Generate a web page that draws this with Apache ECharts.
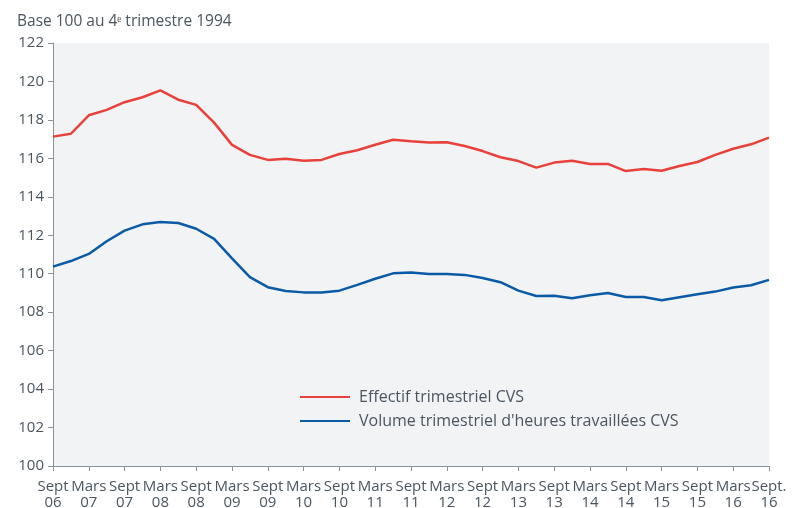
<!DOCTYPE html>
<html><head><meta charset="utf-8">
<script src="https://cdn.jsdelivr.net/npm/echarts@6/dist/echarts.min.js"></script>
<style>html,body{margin:0;padding:0;background:#fff}#c{width:795px;height:508px}</style>
</head><body><div id="c"></div>
<script>
const categories = [
"Sept\n06","Déc\n06","Mars\n07","Juin\n07","Sept\n07","Déc\n07","Mars\n08","Juin\n08","Sept\n08","Déc\n08",
"Mars\n09","Juin\n09","Sept\n09","Déc\n09","Mars\n10","Juin\n10","Sept\n10","Déc\n10","Mars\n11","Juin\n11",
"Sept\n11","Déc\n11","Mars\n12","Juin\n12","Sept\n12","Déc\n12","Mars\n13","Juin\n13","Sept\n13","Déc\n13",
"Mars\n14","Juin\n14","Sept\n14","Déc\n14","Mars\n15","Juin\n15","Sept\n15","Déc\n15","Mars\n16","Juin\n16","Sept.\n16"];
const effectif = [117.13,117.28,118.24,118.52,118.92,119.18,119.54,119.05,118.78,117.86,116.70,116.18,115.92,115.98,115.88,115.92,116.23,116.42,116.71,116.97,116.89,116.82,116.84,116.64,116.38,116.06,115.86,115.52,115.78,115.88,115.71,115.71,115.34,115.45,115.36,115.60,115.81,116.18,116.50,116.73,117.08];
const volume = [110.37,110.66,111.03,111.69,112.24,112.57,112.69,112.64,112.34,111.81,110.80,109.82,109.30,109.10,109.03,109.02,109.12,109.42,109.74,110.02,110.07,109.99,109.99,109.94,109.78,109.56,109.12,108.84,108.86,108.72,108.88,109.00,108.79,108.79,108.62,108.78,108.93,109.07,109.28,109.40,109.68];
const seriesNames = ["Effectif trimestriel CVS","Volume trimestriel d'heures travaillées CVS"];
const title = "Base 100 au 4ᵉ trimestre 1994";

const txt = '#4a5560';
const font = 'Open Sans';
const chart = echarts.init(document.getElementById('c'));
chart.setOption({
  animation:false,
  backgroundColor:'#fff',
  textStyle:{fontFamily:font},
  title:{text:title,left:12,top:9,textStyle:{fontSize:15.5,fontWeight:'normal',color:txt,fontFamily:font}},
  grid:{left:53,right:26,top:43,bottom:42,show:true,backgroundColor:'#f2f3f5',borderWidth:0,outerBoundsMode:'none',containLabel:false},
  legend:{orient:'vertical',left:295,top:384,itemWidth:50,itemHeight:10,itemGap:8,icon:'path://M0,0L50,0L50,2.2L0,2.2Z',
    textStyle:{fontSize:16,color:txt,fontFamily:font,padding:[0,0,0,4]},data:seriesNames},
  xAxis:{type:'category',data:categories,boundaryGap:false,
    axisLine:{lineStyle:{color:'#8a9299',width:1}},
    axisTick:{interval:1,length:5,lineStyle:{color:'#8a9299'}},
    axisLabel:{interval:1,color:txt,fontSize:15,lineHeight:16,margin:13,fontFamily:font}},
  yAxis:{type:'value',min:100,max:122,interval:2,
    axisLine:{show:true,lineStyle:{color:'#8a9299'}},
    axisTick:{show:true,length:5,lineStyle:{color:'#8a9299'}},
    splitLine:{show:false},
    axisLabel:{color:txt,fontSize:15,margin:9,fontFamily:font}},
  series:[
    {name:seriesNames[0],type:'line',data:effectif,symbol:'none',lineStyle:{color:'#e8413b',width:2.5},itemStyle:{color:'#e8413b'}},
    {name:seriesNames[1],type:'line',data:volume,symbol:'none',lineStyle:{color:'#0b5aa6',width:2.5},itemStyle:{color:'#0b5aa6'}}
  ]
});
</script></body></html>
